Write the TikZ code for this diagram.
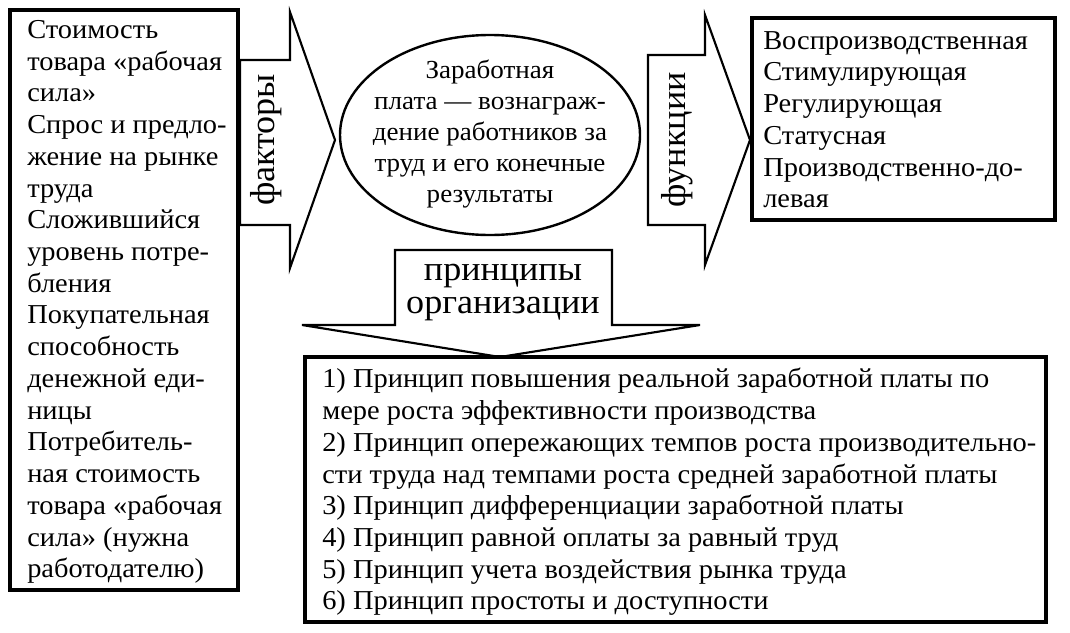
\documentclass[tikz,border=0pt]{standalone}
\usepackage{fontspec}
\setmainfont{Liberation Serif}[FakeStretch=1.04]
\begin{document}
\begin{tikzpicture}[x=0.75pt,y=-0.75pt,
  box/.style={draw,line width=2.4pt},
  shp/.style={draw,line width=1.6pt,fill=white},
  txt/.style={font=\fontsize{20.5}{23.8}\selectfont,align=left,inner sep=0pt},
  big/.style={font=\fontsize{26}{26}\selectfont,inner sep=0pt}]
\useasboundingbox (0,0) rectangle (1070,632);
% left box
\draw[box] (10,10) rectangle (238,590);
\node[txt,anchor=north west] (left) at (27,20) {Стоимость\\товара «рабочая\\сила»\\Спрос и предло-\\жение на рынке\\труда\\Сложившийся\\уровень потре-\\бления\\Покупательная\\способность\\денежной еди-\\ницы\\Потребитель-\\ная стоимость\\товара «рабочая\\сила» (нужна\\работодателю)};
% arrow факторы
\draw[shp] (240,60) -- (290,60) -- (290,12) -- (335,140) -- (290,268) -- (290,225) -- (240,225) -- cycle;
\node[big,rotate=90] (fak) at (266,140) {факторы};
% ellipse
\draw[line width=1.8pt] (490,135) ellipse (150 and 100);
\node[txt,align=center,font=\fontsize{19.5}{23.3}\selectfont] (ell) at (490,134) {Заработная\\плата — вознаграж-\\дение работников за\\труд и его конечные\\результаты};
% arrow функции
\draw[shp] (648,55) -- (705,55) -- (705,15) -- (750,140) -- (705,265) -- (705,225) -- (648,225) -- cycle;
\node[big,rotate=90] (fun) at (677,140) {функции};
% right box
\draw[box] (752,18) rectangle (1055,220);
\node[txt,anchor=north west] (right) at (763,31) {Воспроизводственная\\Стимулирующая\\Регулирующая\\Статусная\\Производственно-до-\\левая};
% down arrow
\draw[shp] (395,250) -- (612,250) -- (612,325) -- (700,325) -- (500,357) -- (302,325) -- (395,325) -- cycle;
\node[big] (pr1) at (503,276) {принципы};
\node[big] (pr2) at (503,309) {организации};
% bottom box
\draw[box] (305,357) rectangle (1046,622);
\node[txt,anchor=north west] (bot) at (322,368) {1) Принцип повышения реальной заработной платы по\\мере роста эффективности производства\\2) Принцип опережающих темпов роста производительно-\\сти труда над темпами роста средней заработной платы\\3) Принцип дифференциации заработной платы\\4) Принцип равной оплаты за равный труд\\5) Принцип учета воздействия рынка труда\\6) Принцип простоты и доступности};
\end{tikzpicture}
\end{document}
